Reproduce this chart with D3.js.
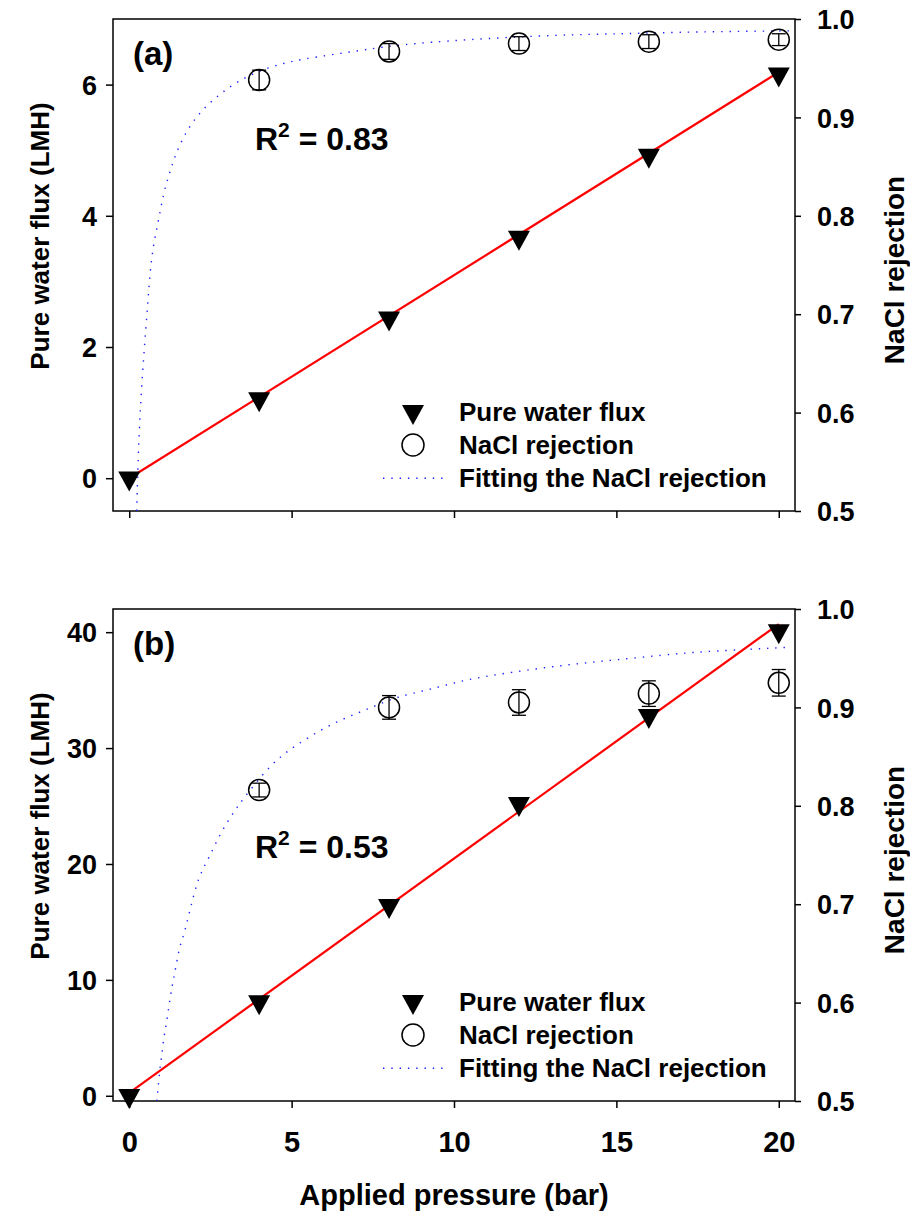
<!DOCTYPE html>
<html><head><meta charset="utf-8">
<script src="https://cdn.jsdelivr.net/npm/d3@7"></script>
<style>
body{margin:0;background:#fff}
svg{display:block}
text{font-family:"Liberation Sans",Arial,sans-serif;font-weight:bold;fill:#000}
</style>
</head><body>
<svg id="chart" width="910" height="1216"></svg>
<script>
// ---------- data ----------
const xTickValues = [0, 5, 10, 15, 20];
const pressure = [0, 4, 8, 12, 16, 20];
const rejPressure = [4, 8, 12, 16, 20];
const rightTicks = [0.5, 0.6, 0.7, 0.8, 0.9, 1.0];

// panel (a)
const leftTicksA = [0, 2, 4, 6];
const fluxA = [0, 1.21, 2.44, 3.67, 4.92, 6.16];
const fluxFitAX = [0, 20];
const fluxFitAY = [0.0, 6.19];
const rejA = [0.938, 0.967, 0.975, 0.977, 0.979];
const rejErrA = [0.010, 0.008, 0.007, 0.007, 0.006];
const rejFitAX = [0.23, 0.28, 0.38, 0.56, 0.64, 0.74, 0.90, 1.05, 1.20, 1.36, 1.56, 1.87, 2.28, 2.80, 3.31, 4.03, 4.74, 5.30, 6.28, 7.31, 8.34, 10.3, 13.26, 15.3, 17.37, 20.4];
const rejFitAY = [0.50, 0.562, 0.630, 0.706, 0.743, 0.770, 0.795, 0.822, 0.839, 0.856, 0.873, 0.892, 0.909, 0.924, 0.936, 0.948, 0.955, 0.959, 0.964, 0.969, 0.974, 0.979, 0.984, 0.985, 0.987, 0.988];

// panel (b)
const leftTicksB = [0, 10, 20, 30, 40];
const fluxB = [0, 8.1, 16.4, 25.2, 32.8, 40.1];
const fluxFitBX = [0, 20];
const fluxFitBY = [0.25, 40.7];
const rejB = [0.816, 0.900, 0.905, 0.914, 0.925];
const rejErrB = [0.007, 0.012, 0.013, 0.013, 0.0135];
const rejFitBX = [0.85, 0.90, 0.95, 1.0, 1.05, 1.15, 1.26, 1.36, 1.46, 1.56, 1.67, 1.87, 2.13, 2.44, 2.80, 3.26, 3.51, 4.13, 4.64, 5.16, 5.93, 6.70, 7.47, 8.24, 9.26, 10.29, 11.83, 13.36, 14.90, 16.96, 17.88, 20.24];
const rejFitBY = [0.50, 0.517, 0.536, 0.545, 0.562, 0.579, 0.606, 0.623, 0.641, 0.658, 0.667, 0.694, 0.728, 0.746, 0.772, 0.796, 0.807, 0.833, 0.850, 0.862, 0.878, 0.890, 0.900, 0.911, 0.918, 0.928, 0.936, 0.943, 0.948, 0.955, 0.957, 0.961];

const legendLabels = ["Pure water flux", "NaCl rejection", "Fitting the NaCl rejection"];
const panelLabels = ["(a)", "(b)"];
const r2Values = ["0.83", "0.53"];
const xTitle = "Applied pressure (bar)";
const yLeftTitle = "Pure water flux (LMH)";
const yRightTitle = "NaCl rejection";

// ---------- drawing ----------
const svg = d3.select("#chart");
const L = 113, R = 795;
const x = d3.scaleLinear().domain([-0.5, 20.5]).range([L, R]);

const panels = [
  {top: 19, bottom: 511, yL: [-0.5, 7], lt: leftTicksA, flux: fluxA, fx: fluxFitAX, fy: fluxFitAY,
   rej: rejA, err: rejErrA, cx: rejFitAX, cy: rejFitAY, label: panelLabels[0], r2: r2Values[0], r2y: 150, xlabels: false},
  {top: 609, bottom: 1101, yL: [-0.45, 42], lt: leftTicksB, flux: fluxB, fx: fluxFitBX, fy: fluxFitBY,
   rej: rejB, err: rejErrB, cx: rejFitBX, cy: rejFitBY, label: panelLabels[1], r2: r2Values[1], r2y: 858, xlabels: true}
];

function triPath(px, py) {
  const w = 22, h = 20;
  return `M${px - w/2},${py - h/3}L${px + w/2},${py - h/3}L${px},${py + 2*h/3}Z`;
}

const dotStyle = {stroke: "#2020ff", width: 1.4, dash: "1.4 6.9"};

panels.forEach(p => {
  const yL = d3.scaleLinear().domain(p.yL).range([p.bottom, p.top]);
  const yR = d3.scaleLinear().domain([0.5, 1.0]).range([p.bottom, p.top]);
  const g = svg.append("g");

  // left axis
  const la = g.append("g").attr("transform", `translate(${L},0)`)
    .call(d3.axisLeft(yL).tickValues(p.lt).tickSize(7).tickPadding(9).tickFormat(d3.format("d")));
  la.select(".domain").remove();
  la.selectAll("line").attr("stroke", "#000").attr("stroke-width", 1.5);
  la.selectAll("text").style("font-size", "27px").attr("dy", "0.36em");

  // right axis
  const ra = g.append("g").attr("transform", `translate(${R},0)`)
    .call(d3.axisRight(yR).tickValues(rightTicks).tickSize(6).tickPadding(16).tickFormat(d3.format(".1f")));
  ra.select(".domain").remove();
  ra.selectAll("line").attr("stroke", "#000").attr("stroke-width", 1.5);
  ra.selectAll("text").style("font-size", "27px").attr("dy", "0.36em");

  // bottom axis
  const ba = g.append("g").attr("transform", `translate(0,${p.bottom})`)
    .call(d3.axisBottom(x).tickValues(xTickValues).tickSize(7).tickPadding(23).tickFormat(p.xlabels ? d3.format("d") : () => ""));
  ba.select(".domain").remove();
  ba.selectAll("line").attr("stroke", "#000").attr("stroke-width", 1.5);
  ba.selectAll("text").style("font-size", "29px").attr("dy", "0.71em");

  // frame
  g.append("rect").attr("x", L).attr("y", p.top).attr("width", R - L).attr("height", p.bottom - p.top)
    .attr("fill", "none").attr("stroke", "#000").attr("stroke-width", 1.5);

  // fitting curve (dotted blue)
  const curvePts = p.cx.map((v, i) => [v, p.cy[i]]);
  g.append("path").datum(curvePts)
    .attr("d", d3.line().x(d => x(d[0])).y(d => yR(d[1])).curve(d3.curveBasis))
    .attr("fill", "none").attr("stroke", dotStyle.stroke).attr("stroke-width", dotStyle.width)
    .attr("stroke-dasharray", dotStyle.dash);

  // linear fit (red)
  const linePts = p.fx.map((v, i) => [v, p.fy[i]]);
  g.append("path").datum(linePts)
    .attr("d", d3.line().x(d => x(d[0])).y(d => yL(d[1])))
    .attr("fill", "none").attr("stroke", "#ff0000").attr("stroke-width", 2.2);

  // triangles
  g.selectAll("path.tri").data(p.flux).enter().append("path").attr("class", "tri")
    .attr("d", (d, i) => triPath(x(pressure[i]), yL(d))).attr("fill", "#000");

  // rejection circles with error bars
  p.rej.forEach((v, i) => {
    const px = x(rejPressure[i]);
    const y1 = yR(v + p.err[i]), y2 = yR(v - p.err[i]);
    g.append("line").attr("x1", px).attr("x2", px).attr("y1", y1).attr("y2", y2)
      .attr("stroke", "#000").attr("stroke-width", 1.3);
    [y1, y2].forEach(yy => g.append("line").attr("x1", px - 7).attr("x2", px + 7).attr("y1", yy).attr("y2", yy)
      .attr("stroke", "#000").attr("stroke-width", 1.3));
    g.append("circle").attr("cx", px).attr("cy", yR(v)).attr("r", 10.5)
      .attr("fill", "none").attr("stroke", "#000").attr("stroke-width", 1.5);
  });

  // panel label
  g.append("text").attr("x", 133).attr("y", p.top + 46).style("font-size", "33px").text(p.label);

  // R^2 text
  const rt = g.append("text").attr("x", 255).attr("y", p.r2y).style("font-size", "32px");
  rt.append("tspan").text("R");
  rt.append("tspan").attr("dy", -13).style("font-size", "21px").text("2");
  rt.append("tspan").attr("dy", 13).text(" = " + p.r2);

  // legend
  const lx = 413, ly = p.top + 392.7, step = 33.3;
  g.append("path").attr("d", triPath(lx, ly)).attr("fill", "#000");
  g.append("circle").attr("cx", lx).attr("cy", ly + step).attr("r", 11)
    .attr("fill", "none").attr("stroke", "#000").attr("stroke-width", 1.5);
  g.append("line").attr("x1", 383).attr("x2", 445).attr("y1", ly + 2*step).attr("y2", ly + 2*step)
    .attr("stroke", dotStyle.stroke).attr("stroke-width", dotStyle.width).attr("stroke-dasharray", dotStyle.dash);
  legendLabels.forEach((t, i) => {
    g.append("text").attr("x", 459).attr("y", ly + i*step).attr("dy", "0.35em").style("font-size", "26px").text(t);
  });

  // axis titles
  g.append("text").attr("transform", `translate(40,${(p.top + p.bottom)/2 - 29}) rotate(-90)`)
    .attr("text-anchor", "middle").attr("dominant-baseline", "central").style("font-size", "26px").text(yLeftTitle);
  g.append("text").attr("transform", `translate(894,${(p.top + p.bottom)/2 + 5}) rotate(-90)`)
    .attr("text-anchor", "middle").attr("dominant-baseline", "central").style("font-size", "28px").text(yRightTitle);
});

svg.append("text").attr("x", (L + R)/2).attr("y", 1205).attr("text-anchor", "middle")
  .style("font-size", "29px").text(xTitle);
</script>
</body></html>
